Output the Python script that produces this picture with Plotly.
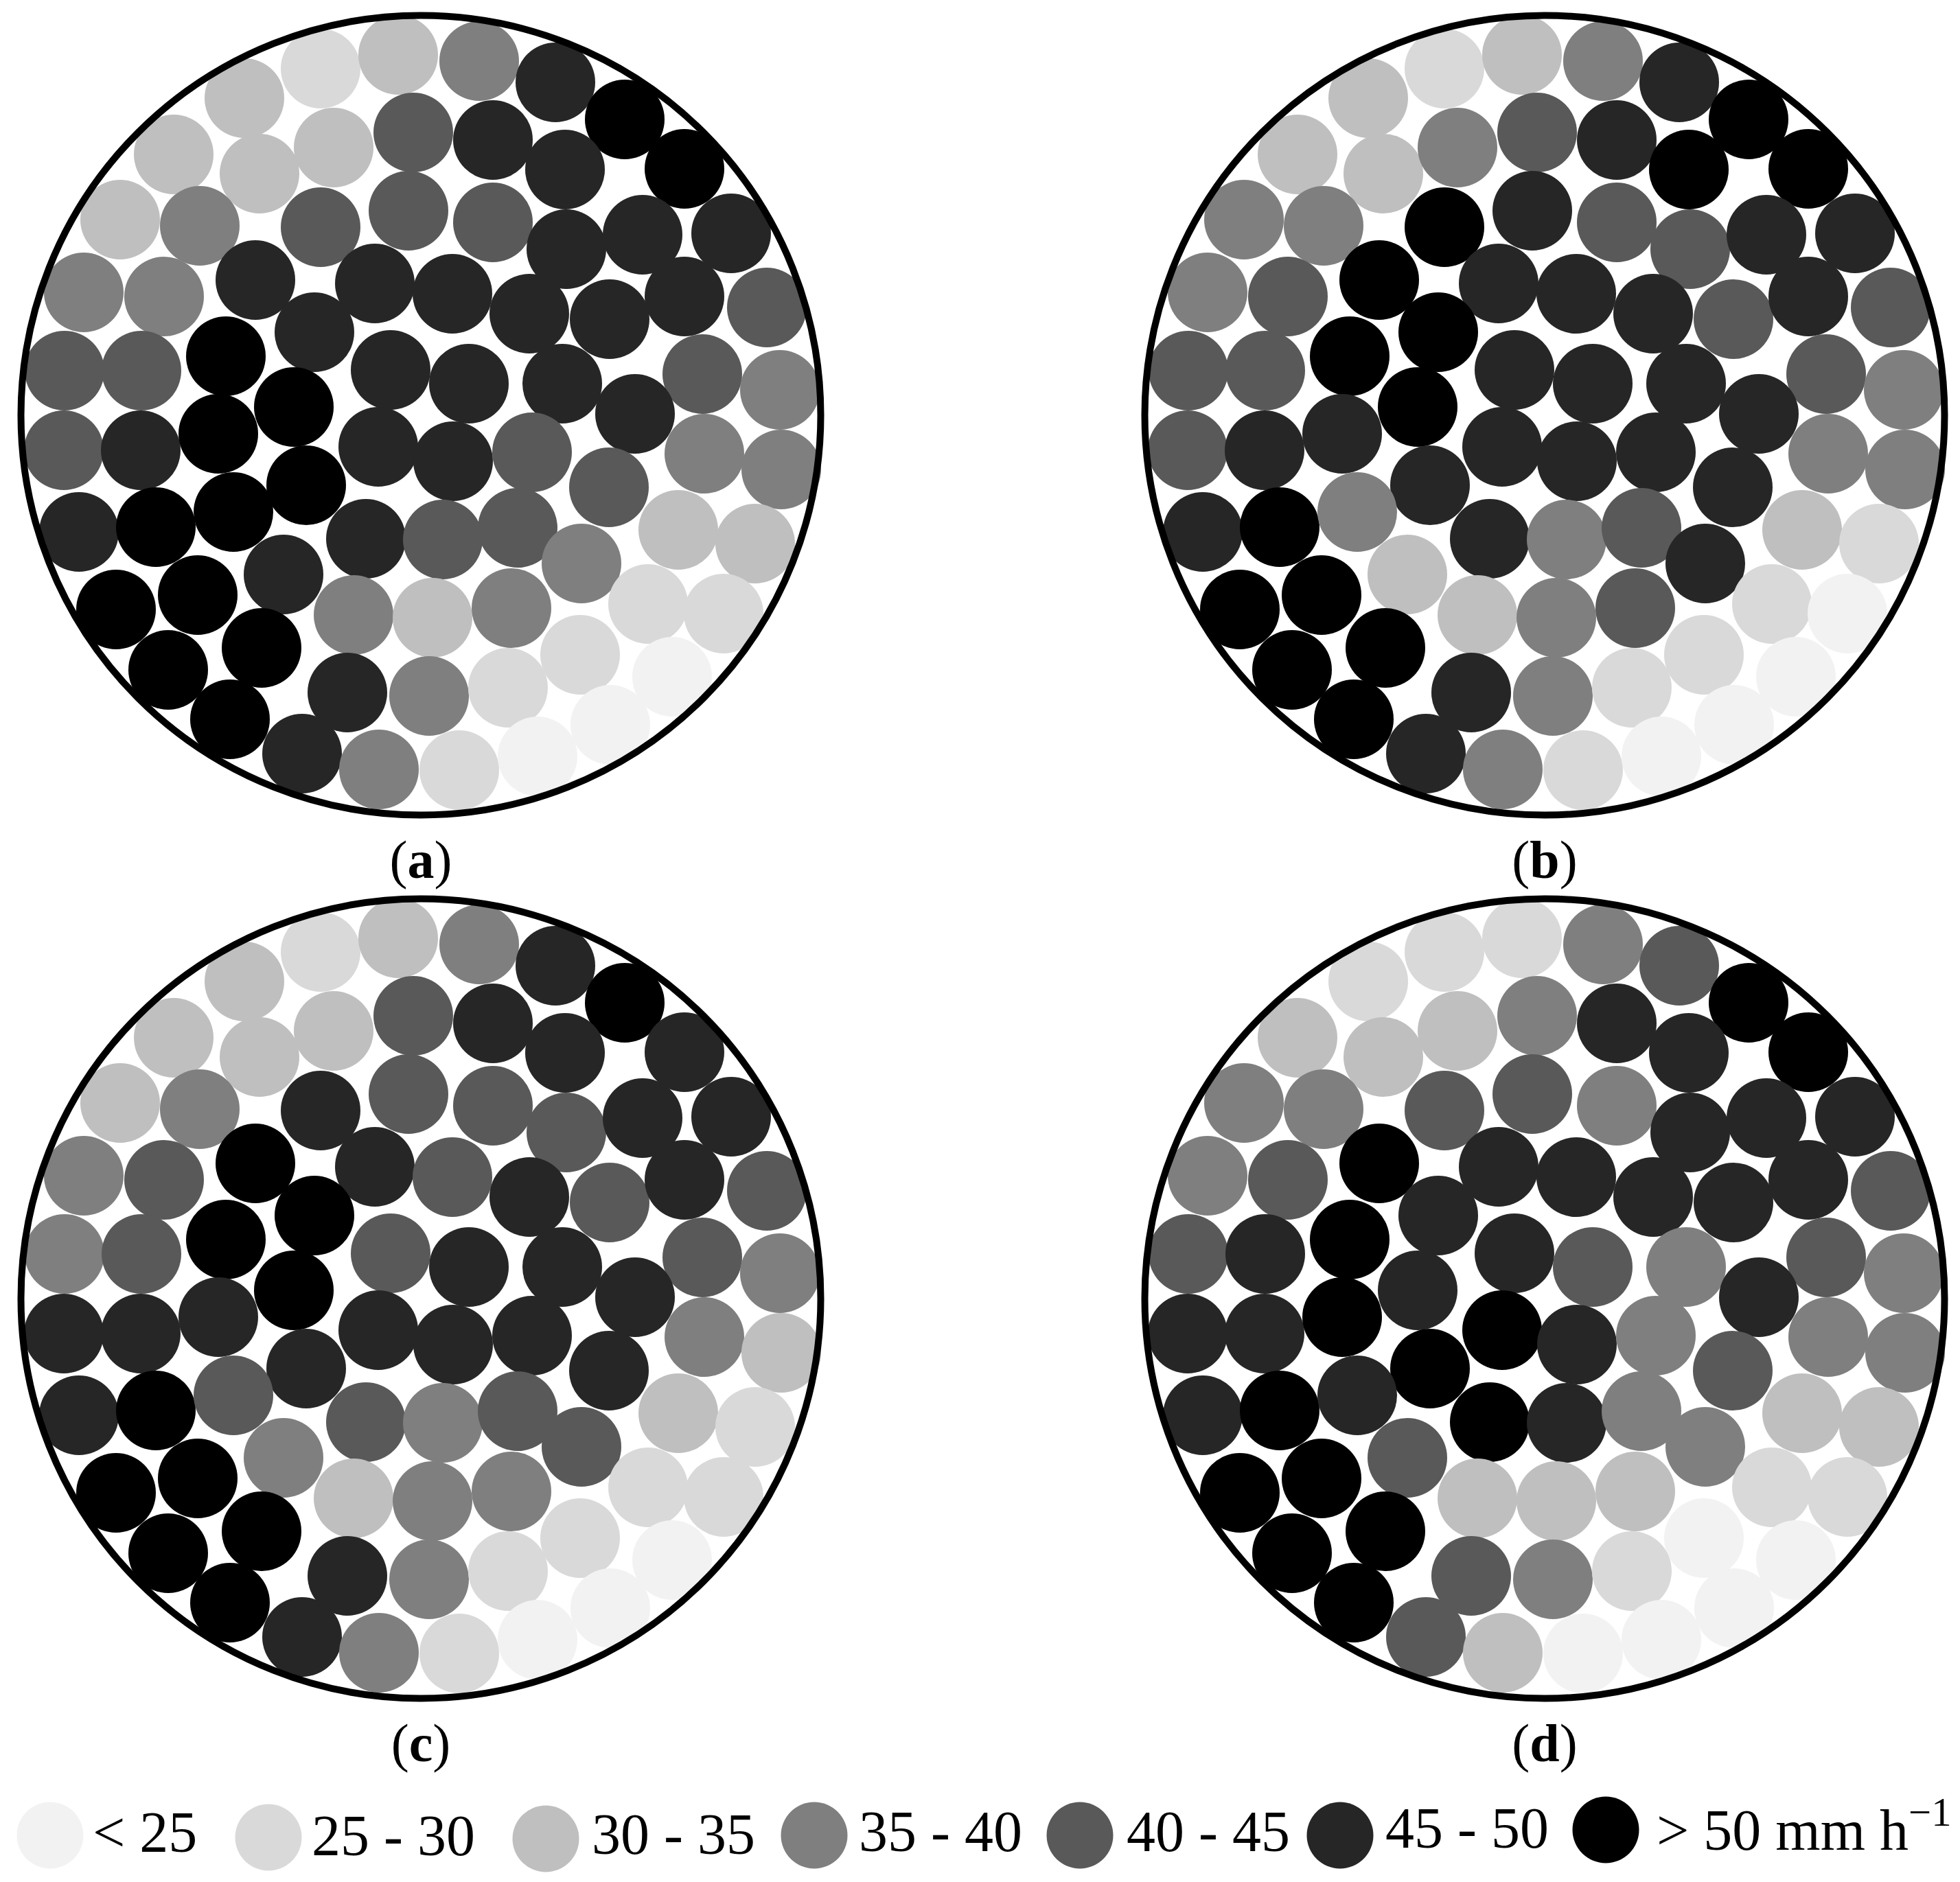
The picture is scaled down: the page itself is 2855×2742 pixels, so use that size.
# Rain rate maps on a circular gauge layout, four panels sharing one gauge position list
import plotly.graph_objects as go

FIG_W = 2855
FIG_H = 2742

# Gauge positions in panel (a), pixels
gauge_x = [467, 580, 698, 809, 910, 356, 253, 378, 486, 602, 718, 823, 997, 175, 291, 467, 595,
	718, 825, 936, 1065, 122, 239, 372, 546, 659, 771, 888, 997, 1117, 94, 206, 329, 458, 569,
	683, 819, 1023, 1136, 428, 925, 93, 205, 318, 551, 660, 775, 1026, 1138, 446, 887, 115, 227,
	340, 533, 645, 754, 988, 1100, 847, 413, 169, 288, 515, 630, 745, 944, 1054, 381, 845, 245,
	506, 625, 740, 979, 335, 889, 440, 552, 669, 783]
gauge_y = [100, 80, 89, 120, 174, 143, 225, 253, 215, 193, 204, 247, 246, 320, 329, 331, 307,
	324, 363, 342, 340, 426, 432, 408, 413, 428, 457, 465, 432, 448, 540, 540, 519, 484, 539,
	559, 559, 545, 568, 593, 603, 656, 656, 632, 651, 672, 659, 661, 684, 707, 710, 775, 768,
	746, 785, 786, 769, 772, 792, 821, 837, 888, 867, 896, 900, 886, 880, 894, 944, 954, 976,
	1009, 1014, 1002, 986, 1048, 1056, 1098, 1121, 1122, 1102]

# Rain rate class of each gauge, index into class_labels
panel_a = [1, 2, 3, 5, 6, 2, 2, 2, 2, 4, 5, 5, 6, 2, 3, 4, 4, 4, 5, 5, 5, 3, 3, 5, 5, 5, 5, 5, 5, 4,
	4, 4, 6, 5, 5, 5, 5, 4, 3, 6, 5, 4, 5, 6, 5, 5, 4, 3, 3, 6, 4, 5, 6, 6, 5, 4, 4, 2, 2, 3,
	5, 6, 6, 3, 2, 3, 1, 1, 6, 1, 6, 5, 3, 1, 0, 6, 0, 5, 3, 1, 0]
panel_b = [1, 2, 3, 5, 6, 2, 2, 2, 3, 4, 5, 6, 6, 3, 3, 6, 5, 4, 4, 5, 5, 3, 4, 6, 5, 5, 5, 4, 5, 4,
	4, 4, 6, 6, 5, 5, 5, 4, 3, 6, 5, 4, 5, 5, 5, 5, 5, 3, 3, 5, 5, 5, 6, 3, 5, 3, 4, 2, 1, 5,
	2, 6, 6, 2, 3, 4, 1, 0, 6, 1, 6, 5, 3, 1, 0, 6, 0, 5, 3, 1, 0]
panel_c = [1, 2, 3, 5, 6, 2, 2, 2, 2, 4, 5, 5, 5, 2, 3, 5, 4, 4, 4, 5, 5, 3, 4, 6, 5, 4, 5, 4, 5, 4,
	3, 4, 6, 6, 4, 5, 5, 4, 3, 6, 5, 5, 5, 5, 5, 5, 5, 3, 2, 5, 5, 5, 6, 4, 4, 3, 4, 2, 1, 4,
	3, 6, 6, 2, 3, 3, 1, 1, 6, 1, 6, 5, 3, 1, 0, 6, 0, 5, 3, 1, 0]
panel_d = [1, 1, 3, 4, 6, 1, 2, 2, 2, 3, 5, 5, 6, 3, 3, 4, 4, 3, 5, 5, 5, 3, 4, 6, 5, 5, 5, 5, 5, 4,
	4, 5, 6, 5, 5, 4, 3, 4, 3, 5, 5, 5, 5, 6, 6, 5, 3, 3, 3, 6, 4, 5, 6, 5, 6, 5, 3, 2, 2, 3,
	4, 6, 6, 2, 2, 2, 1, 1, 6, 0, 6, 4, 3, 1, 0, 6, 0, 4, 2, 0, 0]

panel_classes = [panel_a, panel_b, panel_c, panel_d]
panel_names = ["a", "b", "c", "d"]

class_labels = ["&lt; 25", "25 - 30", "30 - 35", "35 - 40", "40 - 45", "45 - 50", "&gt; 50 mm h<sup>\u22121</sup>"]
class_colors = ["#f2f2f2", "#d9d9d9", "#bfbfbf", "#7f7f7f", "#595959", "#262626", "#000000"]

# Legend swatches and their labels
swatch_x = [73, 391, 795, 1186, 1573, 1952, 2339]
swatch_y = [2674, 2677, 2679, 2674, 2674, 2674, 2666]
legend_text_x = [135, 454, 862, 1251, 1641, 2018, 2413]
legend_text_y = [2677, 2682, 2680, 2676, 2676, 2671, 2674]

# Panel shift from (a)
panel_dx = [0, 1637, 0, 1637]
panel_dy = [0, 0, 1287, 1287]

_CENTER_X = 613
_CENTER_Y = 605
_LABEL_Y = 1259
_GAUGE_SIZE = 116
_RING_SIZE = 1165
_RING_WIDTH = 10
_FONT = "Liberation Serif"

fig = go.Figure()

for classes, name, dx, dy in zip(panel_classes, panel_names, panel_dx, panel_dy):
	fig.add_trace(go.Scatter(
		x = [v + dx for v in gauge_x],
		y = [v + dy for v in gauge_y],
		mode = "markers",
		marker = dict(size = _GAUGE_SIZE, color = [class_colors[c] for c in classes], line_width = 0),
		name = name,
	))
	# Outer gauge ring
	fig.add_trace(go.Scatter(
		x = [_CENTER_X + dx],
		y = [_CENTER_Y + dy],
		mode = "markers",
		marker = dict(size = _RING_SIZE, color = "rgba(0,0,0,0)", line = dict(color = "#000000", width = _RING_WIDTH)),
	))
	# Panel label
	fig.add_trace(go.Scatter(
		x = [_CENTER_X + dx],
		y = [_LABEL_Y + dy],
		mode = "text",
		text = ["(<b>%s</b>)" % name],
		textposition = "middle center",
		textfont = dict(family = _FONT, size = 78, color = "#000000"),
	))

# Legend is drawn as points because its swatches are much bigger than a plotly legend allows
fig.add_trace(go.Scatter(
	x = swatch_x,
	y = swatch_y,
	mode = "markers",
	marker = dict(size = 97, color = class_colors, line_width = 0),
))
fig.add_trace(go.Scatter(
	x = legend_text_x,
	y = legend_text_y,
	mode = "text",
	text = class_labels,
	textposition = "middle right",
	textfont = dict(family = _FONT, size = 84, color = "#000000"),
))

fig.update_xaxes(range = [0, FIG_W], visible = False)
fig.update_yaxes(range = [FIG_H, 0], visible = False)
fig.update_layout(
	width = FIG_W,
	height = FIG_H,
	showlegend = False,
	paper_bgcolor = "#ffffff",
	plot_bgcolor = "#ffffff",
	margin = {"r" : 0, "t" : 0, "l" : 0, "b" : 0},
)

fig.write_html("out.html", config = {"displayModeBar" : False}, post_script = "document.body.style.margin = '0';")
